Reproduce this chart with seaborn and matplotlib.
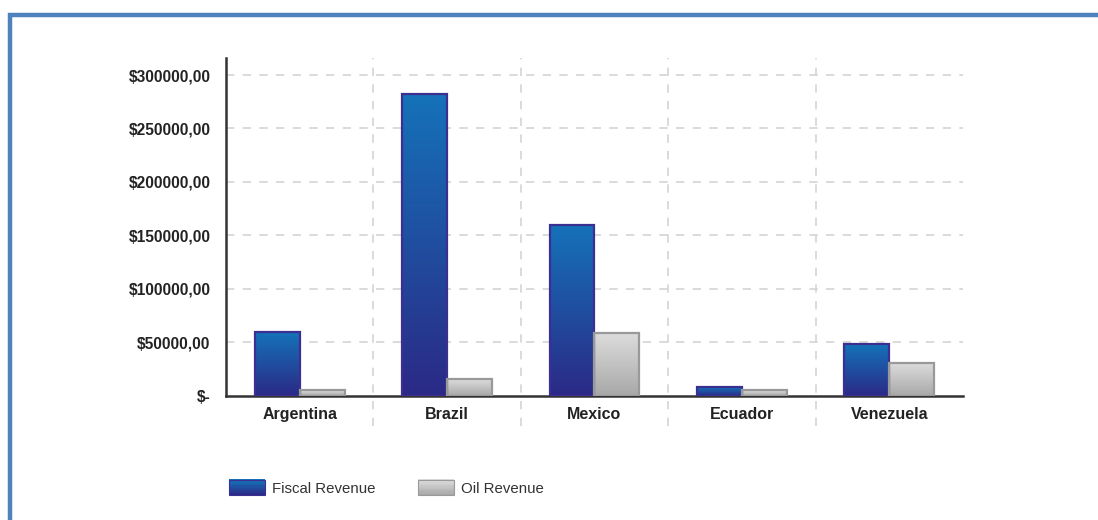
import numpy as np
import pandas as pd
import matplotlib
matplotlib.use("Agg")
import matplotlib.pyplot as plt
from matplotlib.patches import Rectangle
from matplotlib.legend_handler import HandlerBase
from matplotlib.colors import LinearSegmentedColormap
import seaborn as sns

# Revenue by country (USD)
countries = ["Argentina", "Brazil", "Mexico", "Ecuador", "Venezuela"]
fiscal_revenue = [59500, 282000, 159500, 7800, 48500]
oil_revenue = [5500, 15000, 58800, 5300, 30700]
series_names = ["Fiscal Revenue", "Oil Revenue"]
y_ticks = [0, 50000, 100000, 150000, 200000, 250000, 300000]

df = pd.DataFrame({
    "country": countries * 2,
    "series": [series_names[0]] * len(countries) + [series_names[1]] * len(countries),
    "value": fiscal_revenue + oil_revenue,
})

# top colour, bottom colour, edge colour per series
styles = {
    "Fiscal Revenue": ("#1572b9", "#2b2986", "#3b2f92"),
    "Oil Revenue": ("#dcdcdc", "#a8a8a8", "#999999"),
}

sns.set_theme(style="white")
plt.rcParams["font.family"] = ["Liberation Sans Narrow", "Liberation Sans", "DejaVu Sans"]

fig = plt.figure(figsize=(10.98, 5.2), dpi=100)
ax = fig.add_axes([0.2058, 0.2394, 0.877 - 0.2058, 0.8885 - 0.2394])

sns.barplot(data=df, x="country", y="value", hue="series", order=countries,
            hue_order=series_names, width=0.61, gap=0, legend=False,
            palette={k: v[0] for k, v in styles.items()}, ax=ax, zorder=3)

ax.set_xlim(-0.5, len(countries) - 0.5)
ax.set_ylim(0, 316000)

# vertical gradient fill clipped to each bar
grad = np.linspace(0, 1, 256).reshape(-1, 1)
for i, patch in enumerate(ax.patches):
    name = series_names[i // len(countries)]
    top, bottom, edge = styles[name]
    cmap = LinearSegmentedColormap.from_list(name, [bottom, top])
    x0, y0 = patch.get_x(), patch.get_y()
    w, h = patch.get_width(), patch.get_height()
    patch.set_facecolor("none")
    patch.set_edgecolor(edge)
    patch.set_linewidth(1.6)
    patch.set_zorder(4)
    img = ax.imshow(grad, cmap=cmap, origin="lower", aspect="auto",
                    extent=(x0, x0 + w, y0, y0 + h), zorder=3)
    img.set_clip_path(patch)

ax.set_xlim(-0.5, len(countries) - 0.5)
ax.set_ylim(0, 316000)

# grid: dashed horizontal lines and category separators
for yv in y_ticks[1:]:
    ax.axhline(yv, color="#d4d4d4", lw=1.2, ls=(0, (5, 5)), zorder=1)
for k in range(1, len(countries)):
    ax.axvline(k - 0.5, ymin=-0.09, ymax=1, color="#d4d4d4", lw=1.2,
               ls=(0, (5, 5)), zorder=1, clip_on=False)

ax.set_yticks(y_ticks)
ax.set_yticklabels(["$-" if v == 0 else f"${v},00" for v in y_ticks],
                   fontsize=11.2, fontweight="bold", color="#222222")
ax.tick_params(axis="y", length=0, pad=11)
ax.tick_params(axis="x", length=0, pad=8)
for lab in ax.get_xticklabels():
    lab.set_fontsize(11.5)
    lab.set_fontweight("bold")
    lab.set_color("#222222")
ax.set_xlabel("")
ax.set_ylabel("")

for side in ["top", "right"]:
    ax.spines[side].set_visible(False)
for side in ["left", "bottom"]:
    ax.spines[side].set_color("#333333")
    ax.spines[side].set_linewidth(1.8)


class GradientHandler(HandlerBase):
    def __init__(self, top, bottom, edge):
        super().__init__()
        self.top, self.bottom, self.edge = top, bottom, edge

    def create_artists(self, legend, orig_handle, xdescent, ydescent,
                       width, height, fontsize, trans):
        cmap = LinearSegmentedColormap.from_list("g", [self.bottom, self.top])
        n = 12
        arts = []
        for j in range(n):
            r = Rectangle((-xdescent, -ydescent + height * j / n), width,
                          height / n + 0.3, facecolor=cmap(j / (n - 1)),
                          edgecolor="none", transform=trans)
            arts.append(r)
        arts.append(Rectangle((-xdescent, -ydescent), width, height,
                              facecolor="none", edgecolor=self.edge, lw=0.8,
                              transform=trans))
        return arts


handles = [Rectangle((0, 0), 1, 1) for _ in series_names]
handler_map = {h: GradientHandler(*styles[n]) for h, n in zip(handles, series_names)}
leg = fig.legend(handles, series_names, handler_map=handler_map,
                 loc="center left", bbox_to_anchor=(0.196, 0.062), ncol=2,
                 frameon=False, fontsize=10.8, handlelength=2.45, handleheight=1.2,
                 columnspacing=2.8, handletextpad=0.45)
for t in leg.get_texts():
    t.set_color("#333333")
    t.set_family(["Liberation Sans", "DejaVu Sans"])

# outer blue frame
fig.patches.append(Rectangle((10 / 1098, -0.05), 1.2, (520 - 14.5) / 520 + 0.05,
                             transform=fig.transFigure, fill=False,
                             edgecolor="#4f81bd", lw=3.2, zorder=0))

fig.savefig("out.png", dpi=100)
